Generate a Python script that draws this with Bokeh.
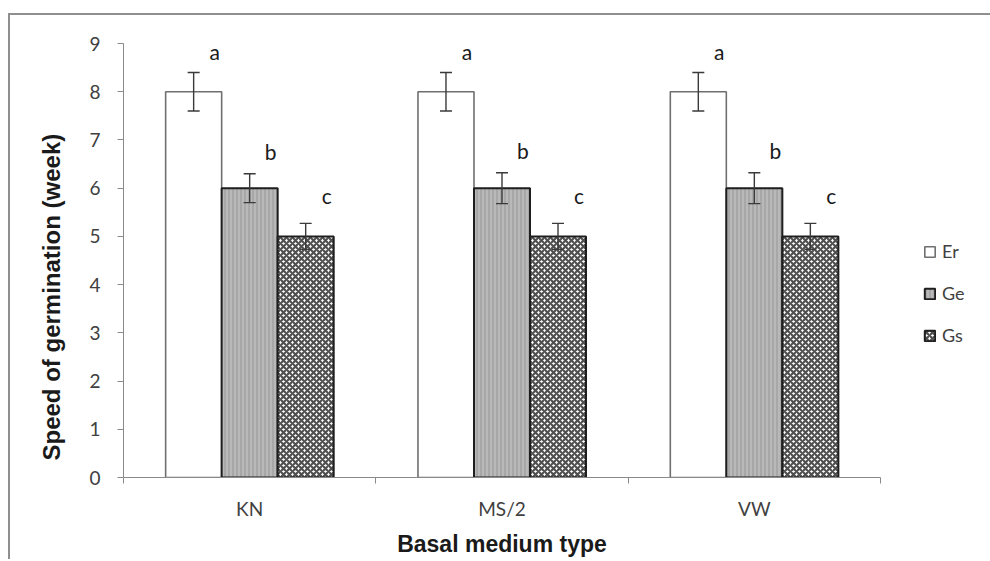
import pandas as pd
from bokeh.plotting import figure
from bokeh.models import (Range1d, FixedTicker, Whisker, TeeHead, ColumnDataSource,
                          Legend, LegendItem, Title)
from bokeh.core.properties import value
from bokeh.embed import file_html
from bokeh.resources import INLINE

# ---- data ----
media = ["KN", "MS/2", "VW"]
species = ["Er", "Ge", "Gs"]
er_mean = [8.0, 8.0, 8.0]
ge_mean = [6.0, 6.0, 6.0]
gs_mean = [5.0, 5.0, 5.0]
er_err = [0.4, 0.4, 0.4]
ge_err = [0.3, 0.32, 0.32]
gs_err = [0.27, 0.27, 0.27]
er_letter = ["a", "a", "a"]
ge_letter = ["b", "b", "b"]
gs_letter = ["c", "c", "c"]
yticks = [0, 1, 2, 3, 4, 5, 6, 7, 8, 9]

TICK_FONT = value("Lato")
TITLE_FONT = "Liberation Sans"

p = figure(frame_width=757, frame_height=434, output_backend="svg", toolbar_location=None,
           x_range=Range1d(0, 3), y_range=Range1d(0, 9),
           min_border_left=113, min_border_right=110, min_border_top=28,
           min_border_bottom=82)
p.styles = {"border-left": "2px solid #8f8f8f", "border-top": "2px solid #8f8f8f",
            "margin-left": "8px", "margin-top": "13px"}
p.outline_line_color = None
p.xgrid.visible = False
p.ygrid.visible = False
p.background_fill_color = "white"

width = 0.222
offsets = [-width, 0.0, width]
letter_gap = [0.44, 0.47, 0.58]
styles = [
    dict(fill_color="white", line_color="#6f6f6f", line_width=1.6),
    dict(fill_color="#b9b9b9", line_color="#1e1e1e", line_width=2.0,
         hatch_pattern="vertical_line", hatch_color="#969696", hatch_scale=4, hatch_weight=1),
    dict(fill_color="white", line_color="#1e1e1e", line_width=2.0,
         hatch_pattern="diagonal_cross", hatch_color="#505050", hatch_scale=6, hatch_weight=2.2),
]
means = [er_mean, ge_mean, gs_mean]
errs = [er_err, ge_err, gs_err]
letters = [er_letter, ge_letter, gs_letter]

renderers = []
for k, sp in enumerate(species):
    df = pd.DataFrame({
        "x": [i + 0.5 + offsets[k] for i in range(len(media))],
        "top": means[k],
        "upper": [m + e for m, e in zip(means[k], errs[k])],
        "lower": [m - e for m, e in zip(means[k], errs[k])],
        "letter": letters[k],
    })
    df["ly"] = df["upper"] + letter_gap[k]
    src = ColumnDataSource(df)
    r = p.vbar(x="x", top="top", bottom=0, width=width, source=src, **styles[k])
    renderers.append(r)
    w = Whisker(base="x", upper="upper", lower="lower", source=src, level="overlay",
                line_color="#3a3a3a", line_width=1.4,
                upper_head=TeeHead(size=12, line_color="#3a3a3a", line_width=1.4),
                lower_head=TeeHead(size=12, line_color="#3a3a3a", line_width=1.4))
    p.add_layout(w)
    p.text(x="x", y="ly", text="letter", source=src, x_offset=21,
           text_align="center", text_baseline="alphabetic",
           text_font=TICK_FONT, text_font_size="21px", text_color="#1a1a1a")

# axes
ax = p.xaxis[0]
ax.ticker = FixedTicker(ticks=[i + 0.5 for i in range(len(media))],
                        minor_ticks=list(range(len(media) + 1)))
ax.major_label_overrides = {i + 0.5: m for i, m in enumerate(media)}
ax.major_tick_out = 0
ax.major_tick_in = 0
ax.minor_tick_out = 6
ax.minor_tick_in = 0
ax.axis_line_color = "#8a8a8a"
ax.minor_tick_line_color = "#8a8a8a"
ax.major_label_text_font = "Lato"
ax.major_label_text_font_size = "19px"
ax.major_label_text_color = "#404040"
ax.major_label_standoff = 13
ax.axis_label = "Basal medium type"
ax.axis_label_text_font = TITLE_FONT
ax.axis_label_text_font_style = "bold"
ax.axis_label_text_font_size = "23px"
ax.axis_label_text_color = "#1a1a1a"
ax.axis_label_standoff = 8

ay = p.yaxis[0]
ay.ticker = FixedTicker(ticks=yticks, minor_ticks=[])
ay.major_tick_out = 6
ay.major_tick_in = 0
ay.axis_line_color = "#8a8a8a"
ay.major_tick_line_color = "#8a8a8a"
ay.minor_tick_line_color = None
ay.major_label_text_font = "Lato"
ay.major_label_text_font_size = "19px"
ay.major_label_text_color = "#404040"
ay.major_label_standoff = 17

ytitle = Title(text="Speed of germination (week)", align="left", offset=17,
               standoff=43, text_font=TITLE_FONT, text_font_style="bold",
               text_font_size="24px", text_color="#1a1a1a")
p.add_layout(ytitle, "left")

legend = Legend(items=[LegendItem(label=s, renderers=[r]) for s, r in zip(species, renderers)],
                location=(43, 131), glyph_width=13, glyph_height=13, label_height=13,
                label_standoff=6, spacing=20, padding=0, margin=0,
                border_line_color=None, background_fill_alpha=0,
                label_text_font="Lato", label_text_font_size="18px",
                label_text_color="#404040")
p.add_layout(legend, "right")

open("out.html", "w").write(file_html(p, INLINE))
